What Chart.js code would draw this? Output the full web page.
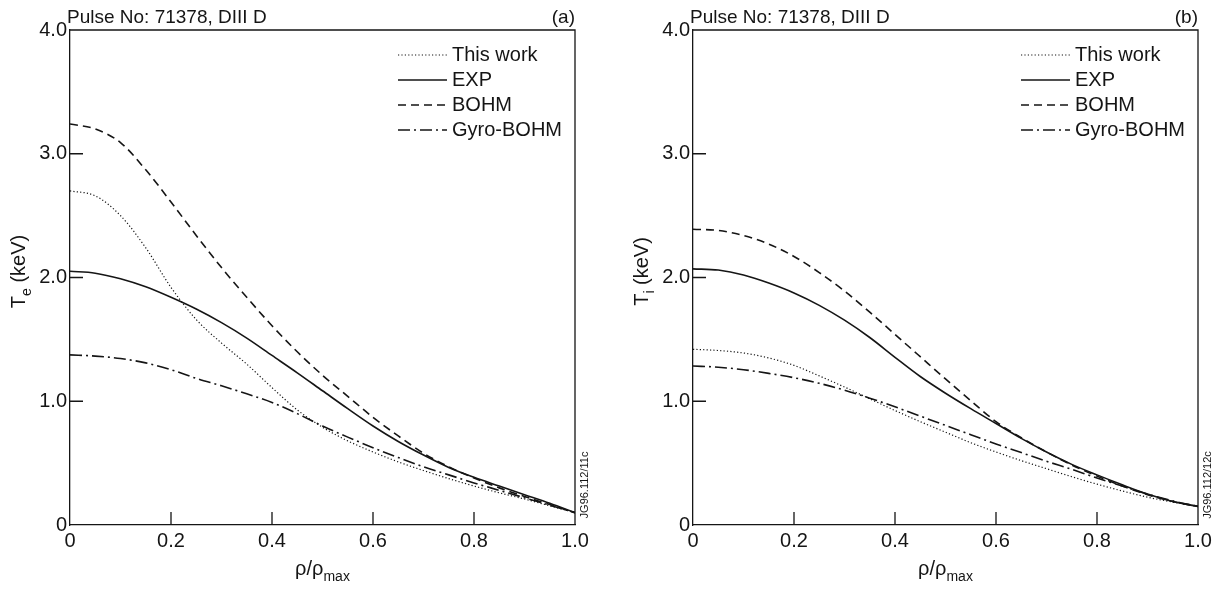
<!DOCTYPE html>
<html>
<head>
<meta charset="utf-8">
<script src="https://cdn.jsdelivr.net/npm/chart.js@4.4.1/dist/chart.umd.min.js"></script>
<style>
  html, body { margin: 0; padding: 0; background: #fff; }
  #wrap { position: relative; width: 1227px; height: 591px; overflow: hidden; }
  canvas { position: absolute; top: 0; }
  #chartA { left: 0; }
  #chartB { left: 623px; }
</style>
</head>
<body>
<div id="wrap">
  <canvas id="chartA" width="623" height="591"></canvas>
  <canvas id="chartB" width="604" height="591"></canvas>
</div>
<script>
// normalised radius rho/rho_max
const rho = [0, 0.05, 0.1, 0.15, 0.2, 0.25, 0.3, 0.35, 0.4, 0.45, 0.5,
             0.55, 0.6, 0.65, 0.7, 0.75, 0.8, 0.85, 0.9, 0.95, 1.0];

// (a) electron temperature Te, keV
const teThisWork = [2.70, 2.66, 2.50, 2.24, 1.92, 1.66, 1.47, 1.30, 1.11, 0.93, 0.79,
                    0.68, 0.59, 0.51, 0.44, 0.375, 0.315, 0.26, 0.21, 0.155, 0.10];
const teExp      = [2.05, 2.035, 1.99, 1.925, 1.84, 1.745, 1.635, 1.51, 1.37, 1.23, 1.085,
                    0.94, 0.80, 0.675, 0.565, 0.465, 0.385, 0.315, 0.245, 0.175, 0.10];
const teBohm     = [3.24, 3.20, 3.09, 2.87, 2.61, 2.34, 2.08, 1.84, 1.61, 1.40, 1.21,
                    1.04, 0.87, 0.72, 0.58, 0.47, 0.38, 0.30, 0.23, 0.165, 0.10];
const teGyro     = [1.375, 1.365, 1.345, 1.31, 1.255, 1.185, 1.125, 1.06, 0.99, 0.90, 0.80,
                    0.71, 0.625, 0.545, 0.47, 0.405, 0.34, 0.28, 0.22, 0.16, 0.10];

// (b) ion temperature Ti, keV
const tiThisWork = [1.42, 1.41, 1.39, 1.35, 1.29, 1.205, 1.115, 1.02, 0.925, 0.835, 0.75,
                    0.665, 0.59, 0.52, 0.455, 0.39, 0.33, 0.275, 0.225, 0.185, 0.15];
const tiExp      = [2.07, 2.06, 2.02, 1.955, 1.875, 1.775, 1.655, 1.515, 1.355, 1.20, 1.065,
                    0.94, 0.82, 0.70, 0.59, 0.49, 0.405, 0.325, 0.25, 0.19, 0.15];
const tiBohm     = [2.39, 2.38, 2.34, 2.27, 2.17, 2.04, 1.89, 1.72, 1.54, 1.36, 1.18,
                    1.005, 0.835, 0.705, 0.59, 0.485, 0.395, 0.315, 0.245, 0.19, 0.15];
const tiGyro     = [1.285, 1.275, 1.255, 1.225, 1.19, 1.145, 1.09, 1.025, 0.955, 0.88, 0.805,
                    0.73, 0.655, 0.585, 0.515, 0.45, 0.38, 0.315, 0.25, 0.195, 0.15];

const seriesNames = ['This work', 'EXP', 'BOHM', 'Gyro-BOHM'];
const xTicks = [0, 0.2, 0.4, 0.6, 0.8, 1.0];
const yTicks = [0, 1, 2, 3, 4];

const ink = '#151515';
const font = '"Liberation Sans", Arial, Helvetica, sans-serif';
const styles = [
  { borderDash: [1.2, 2.2], borderWidth: 1.2 },
  { borderDash: [], borderWidth: 1.6 },
  { borderDash: [8, 5], borderWidth: 1.6 },
  { borderDash: [12, 4, 2, 4], borderWidth: 1.6 }
];

function fmt(v) { return v === 0 ? '0' : v.toFixed(1); }

// draws the frame, inward ticks, titles, legend and stamp
const decor = {
  id: 'decor',
  afterDraw(chart, args, o) {
    const ctx = chart.ctx, a = chart.chartArea;
    const xs = chart.scales.x, ys = chart.scales.y;
    ctx.save();
    ctx.strokeStyle = ink;
    ctx.fillStyle = ink;
    ctx.lineWidth = 1.3;
    ctx.beginPath();
    ctx.moveTo(a.left, a.top);
    ctx.lineTo(a.right, a.top);
    ctx.lineTo(a.right, a.bottom);
    ctx.stroke();

    ctx.beginPath();
    xTicks.forEach(v => {
      if (v > 0 && v < 1) {
        const px = xs.getPixelForValue(v);
        ctx.moveTo(px, a.bottom);
        ctx.lineTo(px, a.bottom - 13);
      }
    });
    yTicks.forEach(v => {
      if (v > 0 && v < 4) {
        const py = ys.getPixelForValue(v);
        ctx.moveTo(a.left, py);
        ctx.lineTo(a.left + 13, py);
      }
    });
    ctx.stroke();

    // header
    ctx.textBaseline = 'alphabetic';
    ctx.font = '19px ' + font;
    ctx.textAlign = 'left';
    ctx.fillText('Pulse No: 71378, DIII D', a.left - 3, a.top - 7);
    ctx.textAlign = 'right';
    ctx.fillText(o.panel, a.right, a.top - 7);

    // x axis title rho/rho_max
    ctx.font = '20px ' + font;
    const mainW = ctx.measureText('\u03c1/\u03c1').width;
    ctx.font = '14px ' + font;
    const subW = ctx.measureText('max').width;
    let x0 = (a.left + a.right) / 2 - (mainW + subW) / 2;
    ctx.textAlign = 'left';
    ctx.font = '20px ' + font;
    ctx.fillText('\u03c1/\u03c1', x0, 575);
    ctx.font = '14px ' + font;
    ctx.fillText('max', x0 + mainW, 581);

    // y axis title T_x (keV)
    ctx.save();
    ctx.translate(a.left - 45, (a.top + a.bottom) / 2 - 6);
    ctx.rotate(-Math.PI / 2);
    ctx.font = '20px ' + font;
    const tW = ctx.measureText('T').width;
    const restW = ctx.measureText(' (keV)').width;
    ctx.font = '14px ' + font;
    const sW = ctx.measureText(o.sub).width;
    let y0 = -(tW + sW + restW) / 2;
    ctx.font = '20px ' + font;
    ctx.fillText('T', y0, 0);
    ctx.font = '14px ' + font;
    ctx.fillText(o.sub, y0 + tW, 6);
    ctx.font = '20px ' + font;
    ctx.fillText(' (keV)', y0 + tW + sW, 0);
    ctx.restore();

    // legend
    chart.data.datasets.forEach((ds, i) => {
      const ly = a.top + 25 + i * 25;
      ctx.save();
      ctx.lineWidth = ds.borderWidth;
      ctx.setLineDash(ds.borderDash);
      ctx.beginPath();
      ctx.moveTo(a.left + 328, ly);
      ctx.lineTo(a.left + 377, ly);
      ctx.stroke();
      ctx.restore();
      ctx.font = '20px ' + font;
      ctx.textAlign = 'left';
      ctx.textBaseline = 'middle';
      ctx.fillText(ds.label, a.left + 382, ly);
    });

    // stamp
    ctx.save();
    ctx.translate(a.right + 13, a.bottom - 40);
    ctx.rotate(-Math.PI / 2);
    ctx.font = '11px ' + font;
    ctx.textAlign = 'center';
    ctx.textBaseline = 'alphabetic';
    ctx.fillText(o.stamp, 0, 0);
    ctx.restore();
    ctx.restore();
  }
};

function makeChart(id, series, panel, sub, stamp, rightPad) {
  const datasets = series.map((vals, i) => ({
    label: seriesNames[i],
    data: rho.map((r, k) => ({ x: r, y: vals[k] })),
    borderColor: ink,
    borderWidth: styles[i].borderWidth,
    borderDash: styles[i].borderDash,
    pointRadius: 0,
    fill: false,
    cubicInterpolationMode: 'monotone'
  }));
  new Chart(document.getElementById(id), {
    type: 'line',
    data: { datasets: datasets },
    options: {
      responsive: false,
      animation: false,
      devicePixelRatio: 1,
      layout: { padding: { top: 30, right: rightPad, left: 0, bottom: 0 } },
      plugins: {
        legend: { display: false },
        tooltip: { enabled: false },
        decor: { panel: panel, sub: sub, stamp: stamp }
      },
      scales: {
        x: {
          type: 'linear', min: 0, max: 1,
          afterBuildTicks: s => { s.ticks = xTicks.map(v => ({ value: v })); },
          afterFit: s => { s.height = 66; s.paddingLeft = 0; s.paddingRight = 0; },
          grid: { display: false, drawTicks: false },
          border: { display: true, color: ink, width: 1.3 },
          ticks: { color: ink, font: { family: font, size: 20 }, padding: 4,
                   maxRotation: 0, callback: v => fmt(v) }
        },
        y: {
          type: 'linear', min: 0, max: 4,
          afterBuildTicks: s => { s.ticks = yTicks.map(v => ({ value: v })); },
          afterFit: s => { s.width = 70; s.paddingTop = 0; s.paddingBottom = 0; },
          grid: { display: false, drawTicks: false },
          border: { display: true, color: ink, width: 1.3 },
          ticks: { color: ink, font: { family: font, size: 20 }, padding: 3,
                   callback: v => fmt(v) }
        }
      }
    },
    plugins: [decor]
  });
}

makeChart('chartA', [teThisWork, teExp, teBohm, teGyro], '(a)', 'e', 'JG96.112/11c', 48);
makeChart('chartB', [tiThisWork, tiExp, tiBohm, tiGyro], '(b)', 'i', 'JG96.112/12c', 29);
</script>
</body>
</html>
